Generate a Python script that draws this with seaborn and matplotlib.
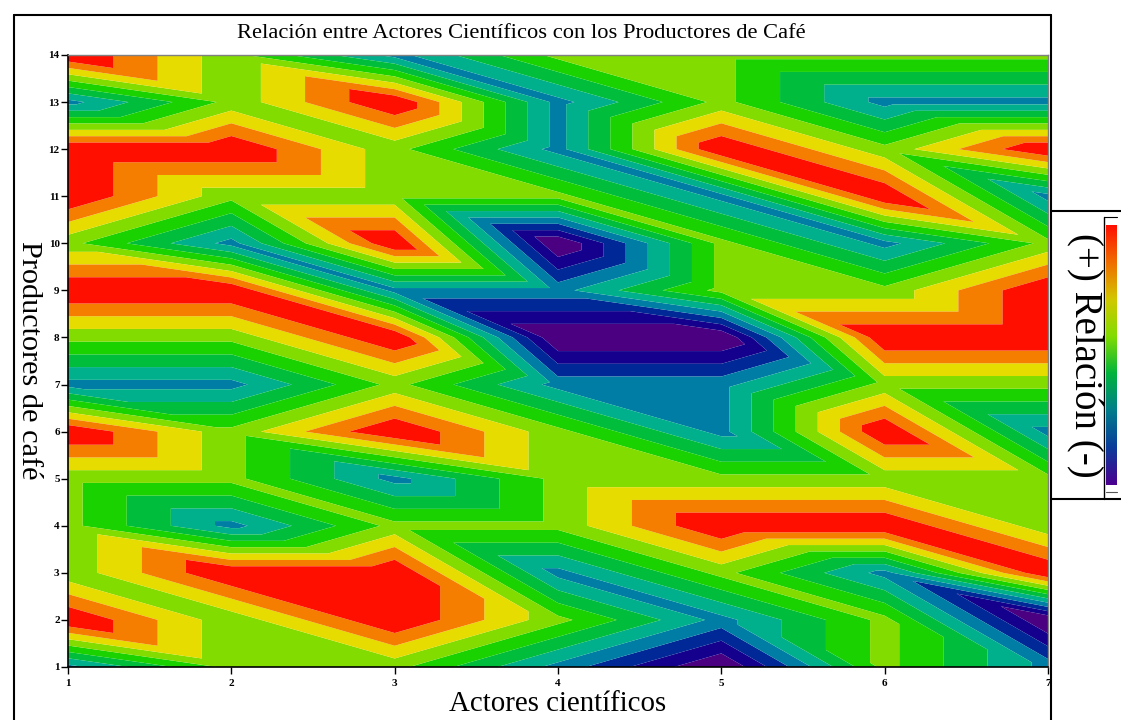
import numpy as np
import matplotlib
matplotlib.use("Agg")
import matplotlib.pyplot as plt
import matplotlib.tri as mtri
from matplotlib.lines import Line2D
import seaborn as sns

sns.set_theme(style="white")
plt.rcParams['font.family'] = ['Liberation Serif', 'DejaVu Serif']

# Relation scores: -2, -1, 0, 1 by producer (row) and scientific actor (column)
actores = [1, 2, 3, 4, 5, 6, 7]
productores = [14, 13, 12, 11, 10, 9, 8, 7, 6, 5, 4, 3, 2, 1]
p14 = [1, 0, -1, 0, 0, 0, 0]
p13 = [-1, 0, 1, -1, 0, -1, -1]
p12 = [1, 1, 0, -1, 1, 0, 1]
p11 = [1, 0, 0, 0, -1, 1, -1]
p10 = [0, -1, 1, -2, 0, -1, 0]
p9 = [1, 1, -1, -1, 0, 0, 1]
p8 = [0, 0, 1, -2, -2, 1, 1]
p7 = [-1, -1, 0, -1, -1, 0, 0]
p6 = [1, 0, 1, 0, -1, 1, -1]
p5 = [0, 0, -1, 0, 0, 0, 0]
p4 = [0, -1, 0, 0, 1, 1, 0]
p3 = [0, 1, 1, -1, 0, -1, 1]
p2 = [1, 0, 1, 0, -1, 0, -2]
p1 = [-1, 0, 0, -1, -2, 0, -1]
filas = [p14, p13, p12, p11, p10, p9, p8, p7, p6, p5, p4, p3, p2, p1]

band_colors = ["#4b0082", "#14008c", "#002896", "#007da5", "#00af8c", "#00be3c",
               "#19d200", "#82dc00", "#e6dc00", "#f57d00", "#ff0f00"]
palette = sns.color_palette(band_colors)
bar_cmap = sns.blend_palette(["#4b0090", "#0a3c9a", "#007d8c", "#00b43c", "#82dc00", "#d2c800", "#f06e00", "#ff0f00"],
                             n_colors=256, as_cmap=True)

W, H = 1121, 720
fig = plt.figure(figsize=(W / 100, H / 100), dpi=100, facecolor="white")
ax = fig.add_axes([68 / W, 1 - 667 / H, 980 / W, 612 / H])

X, Y = np.meshgrid(actores, productores)
Z = np.array(filas, dtype=float)
nr, nc = Z.shape
tris = []
for r in range(nr - 1):      # row r is the upper one
    for c in range(nc - 1):
        a = r * nc + c           # upper left
        b = a + 1                # upper right
        d = (r + 1) * nc + c     # lower left
        e = d + 1                # lower right
        tris.append([a, b, e])
        tris.append([a, d, e])
# diagonal runs from upper left to lower right
tri = mtri.Triangulation(X.ravel(), Y.ravel(), np.array(tris))
levels = (np.arange(0, 12) - 7.33) / 3.7
levels[0] = -3
levels[-1] = 2
ax.tricontourf(tri, Z.ravel(), levels=levels, colors=palette, antialiased=True)

ax.set_xlim(1, 7)
ax.set_ylim(1, 14)
ax.set_xticks(actores)
ax.set_yticks(productores)
ax.tick_params(axis='x', direction='out', length=5, width=1, color='black', pad=4, bottom=True)
ax.tick_params(axis='y', direction='out', length=5, width=1, color='black', pad=1, left=True)
for lab in ax.get_xticklabels() + ax.get_yticklabels():
    lab.set_fontsize(8)
    lab.set_fontweight('bold')
    lab.set_color('black')
for s in ('left', 'bottom'):
    ax.spines[s].set_color('black')
    ax.spines[s].set_linewidth(1.2)
for s in ('top', 'right'):
    ax.spines[s].set_color('#808080')
    ax.spines[s].set_linewidth(1)

fig.text(521 / W, 1 - 34 / H, "Relación entre Actores Científicos con los Productores de Café",
         ha='center', va='center', fontsize=16.2, color='black')
fig.text(558 / W, 1 - 704 / H, "Actores científicos", ha='center', va='center', fontsize=20.8, color='black')
fig.text(29 / W, 1 - 360 / H, "Productores de café", rotation=270, ha='center', va='center', fontsize=21.8, color='black')
fig.text(1084 / W, 1 - 355 / H, "(+) Relación (-)", rotation=270, ha='center', va='center', fontsize=28, color='black')

# colour bar
cax = fig.add_axes([1106 / W, 1 - 485 / H, 11 / W, 260 / H])
cax.imshow(np.linspace(1, 0, 256)[:, None], aspect='auto', cmap=bar_cmap)
cax.set_axis_off()


def line(x0, y0, x1, y1, lw=1.5, color='black'):
    fig.add_artist(Line2D([x0 / W, x1 / W], [1 - y0 / H, 1 - y1 / H], color=color, lw=lw))


line(14, 15, 1051, 15)
line(14, 15, 14, 720)
line(1051, 15, 1051, 720)
line(1051, 211, 1121, 211)
line(1051, 499, 1121, 499)
line(1104, 217, 1104, 499, lw=1)
line(1104, 217, 1117, 217, lw=0.8)
line(1106, 492, 1117, 492, lw=0.8, color='#555555')

fig.savefig("out.png", dpi=100)
